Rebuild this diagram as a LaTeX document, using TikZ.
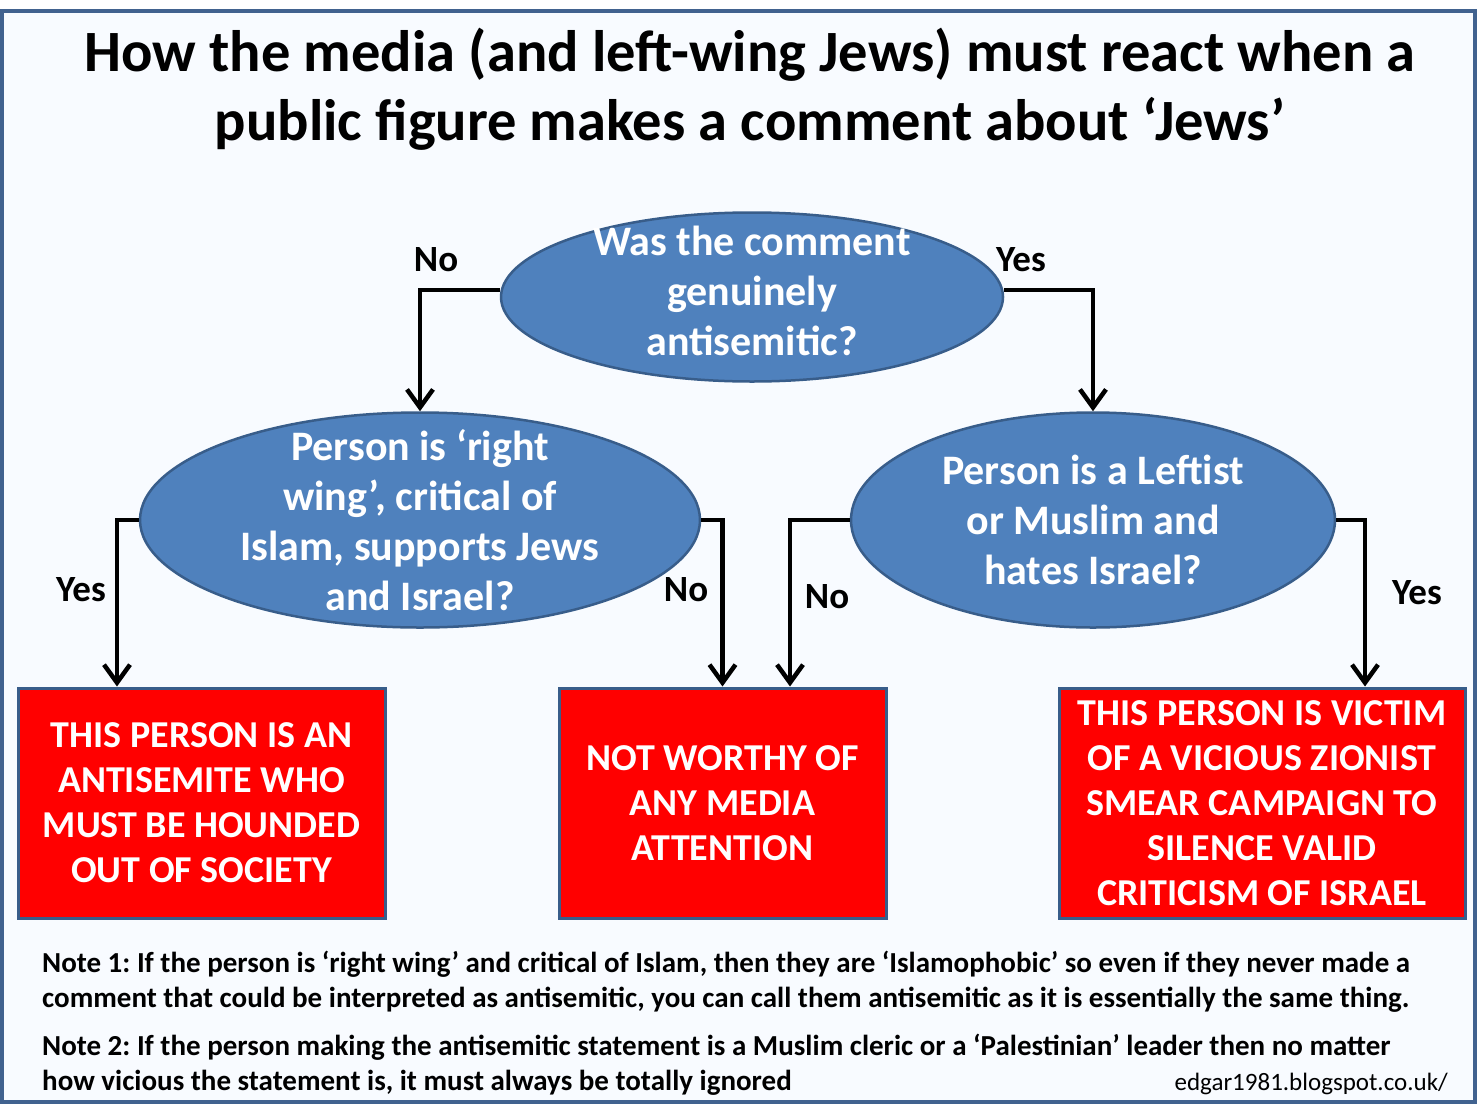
\documentclass[tikz,border=0pt]{standalone}
\usepackage{fontspec}
\setmainfont{Carlito}
\frenchspacing
\usetikzlibrary{shapes.geometric,arrows.meta}
\definecolor{marco}{RGB}{65,98,143}
\definecolor{fondo}{RGB}{248,251,255}
\definecolor{elipse}{RGB}{79,129,189}
\definecolor{borde}{RGB}{56,93,138}
\definecolor{rojo}{RGB}{255,0,0}
\tikzset{
  pregunta/.style={ellipse, draw=borde, line width=2.5pt, fill=elipse, inner sep=0pt},
  preguntatexto/.style={text=white, align=center, font=\bfseries\fontsize{42}{50}\selectfont},
  veredicto/.style={draw=borde, line width=3pt, fill=rojo, inner sep=0pt,
    text=white, align=center, font=\bfseries\fontsize{38}{45}\selectfont},
  flecha/.style={line width=4.5pt, -{Straight Barb[length=18pt,width=26pt]}},
  respuesta/.style={font=\bfseries\fontsize{37}{40}\selectfont},
  nota/.style={anchor=base west, inner sep=0pt, font=\bfseries\fontsize{29}{35}\selectfont}
}
\begin{document}
\begin{tikzpicture}[x=1pt, y=-1pt]
        \useasboundingbox (0,0) rectangle (1479,1116);
        \fill[white] (0,0) rectangle (1479,1116);
        \draw[marco, fill=fondo, line width=4.5pt] (2,11) rectangle (1475,1102);
        % ── titulo ──────────────────────────
        \node[anchor=base, inner sep=0pt, font=\bfseries\fontsize{58.5}{68}\selectfont] (titulo1) at (750,71)
            {How the media (and left-wing Jews) must react when a};
        \node[anchor=base, inner sep=0pt, font=\bfseries\fontsize{58.5}{68}\selectfont] (titulo2) at (750,140)
            {public figure makes a comment about ‘Jews’};
        % ── preguntas ──────────────────────────
        \node[pregunta, minimum width=502pt, minimum height=169pt] (comentario) at (752,297) {};
        \node[preguntatexto] at (752,291) {Was the comment\\genuinely\\antisemitic?};
        \node[pregunta, minimum width=560pt, minimum height=215pt] (derecha) at (420,520) {};
        \node[preguntatexto] at (derecha) {Person is ‘right\\wing’, critical of\\Islam, supports Jews\\and Israel?};
        \node[pregunta, minimum width=484pt, minimum height=215pt] (izquierda) at (1093,520) {};
        \node[preguntatexto] at (izquierda) {Person is a Leftist\\or Muslim and\\hates Israel?};
        % ── veredictos ──────────────────────────
        \node[veredicto, minimum width=367pt, minimum height=230pt] (antisemita) at (201.5,803)
            {THIS PERSON IS AN\\ANTISEMITE WHO\\MUST BE HOUNDED\\OUT OF SOCIETY};
        \node[veredicto, minimum width=327pt, minimum height=230pt] (ignorar) at (722.5,803)
            {NOT WORTHY OF\\ANY MEDIA\\ATTENTION};
        \node[veredicto, minimum width=406pt, minimum height=230pt] (victima) at (1262,803)
            {THIS PERSON IS VICTIM\\OF A VICIOUS ZIONIST\\SMEAR CAMPAIGN TO\\SILENCE VALID\\CRITICISM OF ISRAEL};
        % ── flechas ──────────────────────────
        \draw[flecha] ([yshift=7pt]comentario.west) -| (derecha.north);
        \draw[flecha] ([yshift=7pt]comentario.east) -| (izquierda.north);
        \draw[flecha] (derecha.west) -| (antisemita.north -| 117,0);
        \draw[flecha] (derecha.east) -| (ignorar.north);
        \draw[flecha] (izquierda.west) -| (ignorar.north -| 790,0);
        \draw[flecha] (izquierda.east) -| (victima.north -| 1365,0);
        \node[respuesta] (no1) at (436,260) {No};
        \node[respuesta] (si1) at (1021,260) {Yes};
        \node[respuesta] (si2) at (81,590) {Yes};
        \node[respuesta] (no2) at (686,590) {No};
        \node[respuesta] (no3) at (827,597) {No};
        \node[respuesta] (si3) at (1417,593) {Yes};
        % ── notas ──────────────────────────
        \node[nota] (nota1a) at (42,972) {Note 1: If the person is ‘right wing’ and critical of Islam, then they are ‘Islamophobic’ so even if they never made a};
        \node[nota] (nota1b) at (42,1007) {comment that could be interpreted as antisemitic, you can call them antisemitic as it is essentially the same thing.};
        \node[nota] (nota2a) at (42,1055) {Note 2: If the person making the antisemitic statement is a Muslim cleric or a ‘Palestinian’ leader then no matter};
        \node[nota] (nota2b) at (42,1090) {how vicious the statement is, it must always be totally ignored};
        \node[anchor=base east, inner sep=0pt, font=\fontsize{25}{28}\selectfont] (blog) at (1448,1090) {edgar1981.blogspot.co.uk/};
\end{tikzpicture}
\end{document}
